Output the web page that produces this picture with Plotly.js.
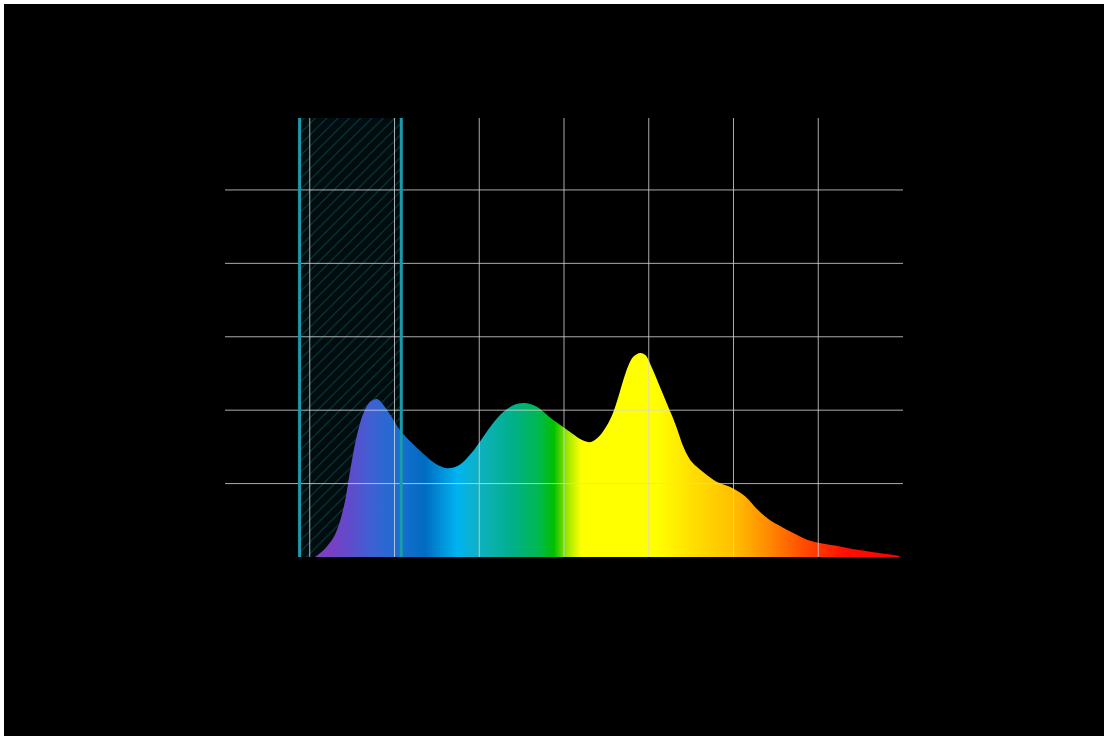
<!DOCTYPE html>
<html>
<head>
<meta charset="utf-8">
<script src="https://cdn.plot.ly/plotly-3.0.1.min.js"></script>
<style>
  html, body { margin: 0; padding: 0; background: #ffffff; width: 1104px; height: 736px; overflow: hidden; }
  #chart { position: absolute; left: 4px; top: 4px; width: 1100px; height: 732px; background: #000; }
</style>
</head>
<body>
<div id="chart"></div>
<script>
// Spectrum (wavelength in nm, relative intensity)
const wavelengths = [403, 406, 410, 415, 420, 424, 428, 432, 436, 440, 444, 448, 453, 460, 467, 474, 481, 488, 495, 502, 509, 516, 523, 528, 534, 541, 548, 555, 561, 566, 571, 575, 579, 582, 585, 588, 591, 595, 598, 602, 606, 610, 614, 617, 620, 624, 628, 633, 640, 649, 657, 664, 671, 678, 685, 692, 700, 710, 720, 730, 740, 748];
const intensity   = [0, 0.010, 0.028, 0.062, 0.135, 0.240, 0.335, 0.396, 0.424, 0.430, 0.411, 0.384, 0.347, 0.312, 0.281, 0.255, 0.242, 0.250, 0.281, 0.325, 0.370, 0.402, 0.418, 0.419, 0.409, 0.383, 0.359, 0.336, 0.318, 0.313, 0.330, 0.356, 0.394, 0.435, 0.482, 0.522, 0.546, 0.556, 0.550, 0.514, 0.470, 0.426, 0.382, 0.345, 0.305, 0.268, 0.247, 0.228, 0.205, 0.189, 0.165, 0.130, 0.102, 0.083, 0.066, 0.050, 0.039, 0.031, 0.022, 0.015, 0.008, 0.003];

// Highlighted band (nm)
const bandRange = [394, 454];

// Axes
const xRange = [350, 750];
const yRange = [0, 1.196];
const xGrid = [400, 450, 500, 550, 600, 650, 700];
const yGrid = [0.2, 0.4, 0.6, 0.8, 1.0];

// Spectral colour scale from 400 nm to 750 nm
const gradStart = 400, gradStop = 750;
const colourStops = [
  [400, '#8040c0'], [412, '#7840c2'], [424, '#5e4ccc'], [436, '#4060d4'], [452, '#1a6ed0'], [468, '#006cc2'],
  [487, '#00b4f0'], [500, '#10b0c0'], [520, '#00b088'], [535, '#00b850'], [544, '#00c000'],
  [552, '#a0e800'], [560, '#ffff00'], [605, '#ffff00'], [625, '#ffe000'], [650, '#ffbf00'],
  [670, '#ff8c00'], [690, '#ff5000'], [715, '#ff1000'], [750, '#ff0000']
];
const colorscale = colourStops.map(s => [(s[0] - gradStart) / (gradStop - gradStart), s[1]]);

const bandTrace = {
  x: [bandRange[0], bandRange[0], bandRange[1], bandRange[1]],
  y: [yRange[0], yRange[1], yRange[1], yRange[0]],
  type: 'scatter', mode: 'lines', fill: 'toself',
  line: { width: 0 },
  fillcolor: 'rgba(0,90,100,0.12)',
  fillpattern: { shape: '/', fgcolor: 'rgba(20,120,130,0.5)', bgcolor: 'rgba(0,40,48,0.3)', size: 8, solidity: 0.12 },
  hoverinfo: 'skip', showlegend: false
};

const spectrumTrace = {
  x: wavelengths, y: intensity,
  type: 'scatter', mode: 'lines',
  line: { shape: 'spline', smoothing: 1, width: 0, color: 'rgba(0,0,0,0)' },
  fill: 'tozeroy',
  fillgradient: { type: 'horizontal', colorscale: colorscale, start: gradStart, stop: gradStop },
  showlegend: false
};

const shapes = [];
xGrid.forEach(v => shapes.push({ type: 'line', xref: 'x', yref: 'paper', x0: v, x1: v, y0: 0, y1: 1, layer: 'above', line: { color: 'rgba(215,215,215,0.8)', width: 1 } }));
yGrid.forEach(v => shapes.push({ type: 'line', xref: 'paper', yref: 'y', x0: 0, x1: 1, y0: v, y1: v, layer: 'above', line: { color: 'rgba(215,215,215,0.8)', width: 1 } }));
bandRange.forEach(v => shapes.push({ type: 'line', xref: 'x', yref: 'paper', x0: v, x1: v, y0: 0, y1: 1, layer: 'above', line: { color: '#1b9aab', width: 3 } }));

const layout = {
  width: 1100, height: 732,
  margin: { l: 221, r: 201, t: 114, b: 179 },
  paper_bgcolor: '#000000', plot_bgcolor: '#000000',
  xaxis: { range: xRange, showgrid: false, zeroline: false, showticklabels: false, ticks: '', showline: false },
  yaxis: { range: yRange, showgrid: false, zeroline: false, showticklabels: false, ticks: '', showline: false },
  shapes: shapes,
  showlegend: false
};

Plotly.newPlot('chart', [bandTrace, spectrumTrace], layout, { displayModeBar: false, staticPlot: true });
</script>
</body>
</html>
